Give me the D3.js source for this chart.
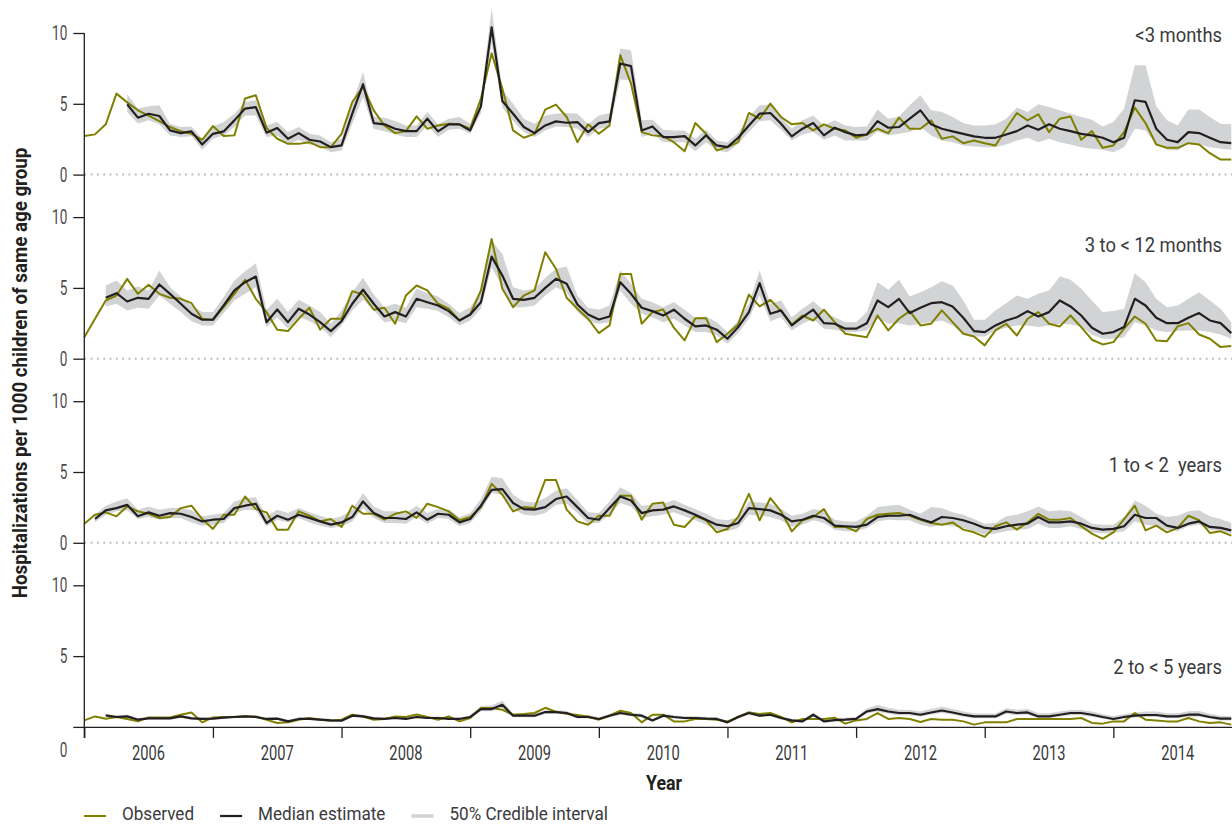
<!DOCTYPE html>
<html>
<head>
<meta charset="utf-8">
<title>Hospitalizations by age group</title>
<script src="https://cdn.jsdelivr.net/npm/d3@7"></script>
<style>
  body { margin: 0; background: #fff; }
  svg { display: block; font-family: Roboto, "Liberation Sans", sans-serif; }
  .pre { white-space: pre; }
</style>
</head>
<body>
<svg id="svg"></svg>
<script>
// x categories: monthly, Jan 2006 .. Dec 2014
var years = [2006, 2007, 2008, 2009, 2010, 2011, 2012, 2013, 2014];
var yTicks = [0, 5, 10];
var panelLabels = ["<3 months", "3 to < 12 months", "1 to < 2  years", "2 to < 5 years"];
var legendLabels = ["Observed", "Median estimate", "50% Credible interval"];

// <3 months
var obsA = [
  2.72, 2.84, 3.55, 5.72, 5.1, 4.54, 4.16, 3.78, 3.36, 3.07, 2.88, 2.46,
  3.43, 2.72, 2.77, 5.37, 5.6, 3.3, 2.53, 2.17, 2.17, 2.29, 1.94, 1.94,
  2.88, 5.13, 6.19, 4.54, 3.47, 2.93, 3.07, 4.11, 3.24, 3.47, 3.59, 3.55,
  3.24, 5.37, 8.56, 6.08, 3.12, 2.6, 2.88, 4.59, 4.94, 4.07, 2.29, 3.55,
  2.88, 3.47, 8.44, 6.43, 3.0, 2.77, 2.7, 2.29, 1.65, 3.64, 2.88, 1.7,
  1.94, 2.29, 4.35, 3.95, 5.01, 4.07, 3.55, 3.64, 3.12, 3.55, 3.24, 3.12,
  2.6, 2.83, 3.24, 2.93, 4.02, 3.24, 3.24, 3.83, 2.53, 2.7, 2.22, 2.41,
  2.22, 2.06, 3.24, 4.35, 3.83, 4.26, 3.0, 3.95, 4.11, 2.46, 3.07, 1.89,
  2.06, 3.0, 4.73, 3.64, 2.13, 1.89, 1.89, 2.22, 2.13, 1.51, 1.06, 1.06];
var medA = [
  null, null, null, null, 4.96, 4.02, 4.3, 4.14, 3.12, 2.93, 3.05, 2.13,
  2.88, 3.05, 3.83, 4.66, 4.77, 2.96, 3.29, 2.53, 2.93, 2.46, 2.34, 1.94,
  2.06, 4.3, 6.38, 3.64, 3.55, 3.24, 3.07, 3.07, 3.95, 3.05, 3.55, 3.55,
  3.12, 4.82, 10.4, 5.2, 4.3, 3.36, 2.93, 3.47, 3.76, 3.66, 3.71, 3.0,
  3.64, 3.76, 7.85, 7.66, 3.12, 3.4, 2.65, 2.65, 2.72, 2.06, 2.77, 2.06,
  1.94, 2.6, 3.47, 4.3, 4.35, 3.59, 2.7, 3.24, 3.64, 2.77, 3.31, 3.0,
  2.77, 2.83, 3.78, 3.31, 3.36, 3.95, 4.54, 3.55, 3.24, 3.05, 2.88, 2.7,
  2.6, 2.6, 2.83, 3.07, 3.47, 3.17, 3.55, 3.24, 3.07, 2.88, 2.77, 2.6,
  2.29, 2.6, 5.25, 5.13, 3.24, 2.46, 2.29, 3.0, 2.93, 2.6, 2.29, 2.22];
var loA = [
  null, null, null, null, 4.42, 3.6, 3.83, 3.55, 2.77, 2.65, 2.7, 1.75,
  2.53, 2.77, 3.36, 4.18, 4.18, 2.65, 2.77, 2.13, 2.46, 2.13, 1.99, 1.58,
  1.7, 3.59, 5.48, 3.24, 3.07, 2.83, 2.65, 2.65, 3.47, 2.65, 3.17, 3.24,
  2.88, 4.35, 9.27, 4.73, 3.78, 3.0, 2.65, 3.12, 3.4, 3.36, 3.24, 2.65,
  3.24, 3.36, 6.71, 6.66, 2.65, 2.88, 2.29, 2.29, 2.29, 1.65, 2.29, 1.7,
  1.58, 2.17, 3.0, 3.78, 3.83, 3.17, 2.41, 2.83, 3.0, 2.46, 2.77, 2.41,
  2.41, 2.41, 3.07, 2.77, 2.88, 3.0, 3.36, 2.77, 2.41, 2.29, 2.06, 1.99,
  1.94, 1.94, 2.13, 2.41, 2.6, 2.29, 2.53, 2.29, 2.13, 1.94, 1.82, 1.75,
  1.58, 1.94, 3.24, 3.12, 2.13, 1.75, 1.7, 2.17, 2.13, 1.94, 1.82, 1.75];
var hiA = [
  null, null, null, null, 5.67, 4.66, 4.82, 4.89, 3.59, 3.36, 3.4, 2.53,
  3.4, 3.71, 4.3, 5.13, 5.25, 3.47, 3.71, 3.0, 3.36, 2.88, 2.77, 2.29,
  2.53, 5.01, 7.26, 4.11, 4.02, 3.78, 3.47, 3.47, 4.42, 3.55, 3.95, 4.07,
  3.59, 5.48, 11.75, 5.96, 5.01, 3.95, 3.59, 4.18, 4.3, 4.35, 4.3, 3.55,
  4.18, 4.35, 8.91, 8.79, 3.83, 3.88, 3.17, 3.12, 3.12, 2.53, 3.17, 2.41,
  2.29, 2.93, 4.07, 4.89, 4.96, 4.07, 3.24, 3.83, 4.18, 3.47, 3.83, 3.47,
  3.36, 3.4, 4.59, 3.95, 4.11, 4.89, 5.6, 4.54, 4.42, 4.07, 3.64, 3.47,
  3.47, 3.55, 3.95, 4.73, 4.42, 4.96, 4.77, 4.54, 4.3, 4.07, 3.88, 3.4,
  3.71, 4.66, 7.73, 7.73, 4.82, 3.83, 3.47, 4.59, 4.59, 4.07, 3.59, 3.55];

// 3 to < 12 months
var obsB = [
  1.52, 2.82, 4.11, 4.46, 5.64, 4.58, 5.22, 4.58, 4.3, 4.23, 3.92, 2.82,
  2.75, 3.64, 4.58, 5.57, 4.23, 3.29, 2.05, 1.95, 2.82, 3.6, 2.05, 2.82,
  2.82, 4.77, 4.53, 3.46, 3.6, 2.47, 4.46, 5.17, 4.82, 3.88, 3.53, 2.7,
  3.12, 4.82, 8.46, 4.94, 3.64, 4.46, 4.82, 7.52, 6.35, 4.3, 3.53, 2.82,
  1.81, 2.35, 5.99, 5.99, 2.47, 3.29, 3.48, 2.19, 1.29, 2.86, 2.86, 1.17,
  1.76, 2.42, 4.53, 3.69, 4.16, 3.36, 2.42, 3.05, 2.7, 3.46, 2.58, 1.76,
  1.64, 1.52, 3.05, 2.0, 2.82, 3.36, 2.35, 2.47, 3.41, 2.58, 1.76, 1.57,
  0.94, 2.0, 2.47, 1.64, 2.82, 3.29, 2.47, 2.28, 3.05, 2.23, 1.34, 1.01,
  1.17, 2.12, 2.98, 2.47, 1.29, 1.24, 2.28, 2.51, 1.71, 1.41, 0.82, 0.9];
var medB = [
  null, null, 4.3, 4.63, 4.04, 4.3, 4.23, 5.24, 4.58, 3.88, 3.17, 2.75,
  2.75, 3.76, 4.82, 5.4, 5.8, 2.58, 3.48, 2.58, 3.53, 3.12, 2.58, 1.95,
  2.65, 3.88, 4.87, 3.88, 2.98, 3.29, 2.98, 4.23, 3.99, 3.76, 3.36, 2.7,
  3.12, 3.99, 7.21, 5.87, 4.23, 4.16, 4.3, 5.0, 5.64, 5.29, 3.83, 3.12,
  2.77, 2.98, 5.4, 4.58, 3.6, 3.36, 3.05, 3.46, 2.82, 2.28, 2.35, 2.05,
  1.41, 2.23, 3.29, 5.33, 3.17, 3.41, 2.35, 2.93, 3.46, 2.51, 2.47, 2.12,
  2.12, 2.51, 4.11, 3.64, 4.23, 3.22, 3.6, 3.92, 3.99, 3.69, 2.89, 1.95,
  1.88, 2.35, 2.7, 2.93, 3.36, 2.98, 3.29, 4.11, 3.69, 3.05, 2.19, 1.76,
  1.88, 2.23, 4.23, 3.76, 2.89, 2.51, 2.51, 2.89, 3.22, 2.7, 2.51, 1.81];
var loB = [
  null, null, 3.69, 3.88, 3.41, 3.6, 3.53, 4.46, 3.88, 3.29, 2.65, 2.35,
  2.35, 3.22, 4.11, 4.58, 5.05, 2.23, 2.93, 2.12, 2.98, 2.65, 2.23, 1.52,
  2.35, 3.41, 4.16, 3.41, 2.58, 2.7, 2.51, 3.64, 3.53, 3.36, 2.93, 2.35,
  2.7, 3.53, 6.46, 5.05, 3.64, 3.64, 3.76, 4.46, 5.05, 4.7, 3.29, 2.65,
  2.47, 2.58, 4.82, 3.88, 3.17, 2.93, 2.58, 2.82, 2.35, 1.88, 1.88, 1.64,
  1.06, 1.81, 2.82, 4.46, 2.65, 2.93, 2.0, 2.47, 2.82, 2.12, 2.05, 1.88,
  1.88, 2.0, 2.82, 2.47, 2.51, 2.35, 2.47, 2.58, 2.7, 2.35, 1.76, 1.57,
  1.57, 2.0, 2.19, 2.35, 2.35, 2.23, 2.35, 2.47, 2.42, 2.28, 1.71, 1.41,
  1.41, 1.52, 2.58, 2.35, 2.0, 1.88, 1.95, 2.0, 2.0, 1.88, 1.71, 1.41];
var hiB = [
  null, null, 5.17, 5.52, 4.82, 5.1, 4.82, 6.23, 5.05, 4.39, 3.76, 3.29,
  3.29, 4.35, 5.52, 6.18, 6.74, 3.46, 4.23, 3.29, 4.16, 3.76, 3.29, 2.47,
  3.41, 4.7, 5.71, 4.53, 3.64, 3.88, 3.6, 4.94, 4.63, 4.39, 3.88, 3.22,
  3.64, 4.82, 8.34, 7.4, 5.05, 4.82, 4.94, 5.71, 6.35, 6.51, 4.46, 3.6,
  3.46, 3.76, 6.23, 5.29, 4.23, 3.99, 3.64, 3.99, 3.46, 2.89, 2.98, 2.58,
  1.88, 2.7, 3.88, 6.23, 3.88, 4.11, 2.93, 3.53, 4.06, 3.41, 2.93, 2.58,
  2.58, 3.29, 5.4, 4.87, 5.57, 4.39, 4.7, 5.05, 5.47, 5.17, 4.11, 2.75,
  2.75, 3.41, 3.92, 4.46, 4.23, 4.58, 4.82, 5.8, 5.57, 4.94, 4.11, 3.29,
  3.36, 3.53, 6.04, 5.4, 4.23, 3.64, 3.76, 4.23, 4.7, 4.11, 3.53, 2.58];

// 1 to < 2 years
var obsC = [
  1.35, 1.98, 2.15, 1.87, 2.57, 2.22, 2.05, 1.75, 1.82, 2.45, 2.62, 1.68,
  0.98, 1.98, 1.98, 3.27, 2.38, 2.15, 0.93, 0.93, 2.22, 1.91, 1.51, 1.68,
  1.12, 2.62, 2.05, 2.05, 1.63, 2.05, 2.22, 1.75, 2.76, 2.52, 2.22, 1.59,
  1.82, 2.52, 4.16, 3.39, 2.22, 2.52, 2.45, 4.44, 4.44, 2.34, 1.51, 1.28,
  1.91, 1.91, 3.32, 3.32, 1.63, 2.76, 2.85, 1.28, 1.12, 1.91, 1.59, 0.74,
  0.98, 1.82, 3.46, 1.59, 3.16, 2.22, 0.81, 1.59, 1.82, 2.38, 1.12, 1.12,
  0.81, 1.68, 1.98, 2.05, 2.1, 1.91, 1.63, 1.4, 1.28, 1.44, 0.93, 0.74,
  0.42, 1.17, 1.44, 0.93, 1.44, 2.05, 1.63, 1.63, 1.75, 1.17, 0.65, 0.28,
  0.74, 1.68, 2.62, 0.88, 1.21, 0.74, 1.05, 1.91, 1.59, 0.7, 0.81, 0.51];
var medC = [
  null, 1.68, 2.29, 2.45, 2.68, 1.87, 2.15, 1.91, 2.1, 2.05, 1.82, 1.51,
  1.63, 1.68, 2.45, 2.62, 2.76, 1.4, 1.91, 1.63, 1.98, 1.75, 1.51, 1.28,
  1.44, 1.82, 2.92, 2.1, 1.75, 1.75, 1.68, 2.15, 1.63, 2.05, 1.98, 1.44,
  1.68, 2.62, 3.74, 3.79, 2.81, 2.38, 2.34, 2.52, 3.09, 3.27, 2.52, 1.75,
  1.63, 2.45, 3.27, 2.99, 2.1, 2.29, 2.34, 2.57, 2.29, 1.98, 1.63, 1.28,
  1.17, 1.4, 2.45, 2.38, 2.29, 1.98, 1.51, 1.63, 1.91, 1.75, 1.21, 1.17,
  1.12, 1.28, 1.82, 1.91, 1.91, 1.98, 1.68, 1.44, 1.82, 1.75, 1.59, 1.35,
  1.05, 0.98, 1.17, 1.28, 1.35, 1.82, 1.44, 1.44, 1.51, 1.35, 1.05, 0.93,
  0.98, 1.17, 1.98, 1.75, 1.75, 1.21, 1.05, 1.35, 1.51, 1.12, 1.05, 0.88];
var loC = [
  null, 1.45, 1.98, 2.22, 2.29, 1.68, 1.82, 1.63, 1.75, 1.75, 1.44, 1.21,
  1.28, 1.4, 2.1, 2.33, 2.29, 1.17, 1.63, 1.44, 1.75, 1.44, 1.21, 1.05,
  1.17, 1.51, 2.45, 1.75, 1.4, 1.4, 1.35, 1.82, 1.35, 1.75, 1.68, 1.17,
  1.4, 2.22, 3.51, 3.39, 2.38, 1.98, 1.91, 2.1, 2.69, 2.76, 2.1, 1.35,
  1.4, 1.98, 2.81, 2.57, 1.75, 1.87, 1.98, 2.15, 1.87, 1.59, 1.28, 0.93,
  0.81, 1.05, 1.98, 1.91, 1.82, 1.59, 1.12, 1.28, 1.59, 1.4, 0.93, 0.81,
  0.81, 1.05, 1.51, 1.63, 1.59, 1.59, 1.28, 1.12, 1.28, 1.17, 1.05, 0.81,
  0.58, 0.65, 0.81, 0.93, 0.98, 1.35, 1.05, 1.05, 1.17, 0.98, 0.74, 0.65,
  0.7, 0.81, 1.51, 1.28, 1.17, 0.93, 0.81, 1.17, 1.28, 0.93, 0.81, 0.65];
var hiC = [
  null, 1.98, 2.62, 2.92, 3.15, 2.33, 2.57, 2.33, 2.45, 2.45, 2.29, 1.87,
  1.98, 2.1, 2.92, 3.15, 3.22, 1.87, 2.33, 2.1, 2.45, 2.15, 1.91, 1.68,
  1.87, 2.33, 3.5, 2.57, 2.22, 2.22, 2.1, 2.62, 2.1, 2.38, 2.34, 1.82,
  2.1, 3.09, 4.67, 4.56, 3.39, 2.92, 2.85, 3.16, 3.69, 3.86, 3.02, 2.15,
  2.1, 2.92, 3.93, 3.51, 2.62, 2.69, 2.76, 3.02, 2.69, 2.38, 2.05, 1.68,
  1.59, 1.82, 2.92, 2.85, 2.76, 2.38, 1.91, 2.05, 2.38, 2.22, 1.63, 1.51,
  1.51, 1.91, 2.52, 2.62, 2.69, 2.34, 2.05, 2.52, 2.45, 2.15, 1.98, 1.68,
  1.35, 1.4, 1.87, 1.98, 2.22, 2.57, 2.22, 2.29, 2.22, 1.82, 1.35, 1.28,
  1.28, 1.82, 2.99, 2.62, 2.05, 1.82, 1.91, 2.22, 2.29, 1.87, 1.68, 1.4];

// 2 to < 5 years
var obsD = [
  0.46, 0.74, 0.58, 0.7, 0.56, 0.39, 0.67, 0.67, 0.67, 0.86, 1.02, 0.32,
  0.67, 0.7, 0.7, 0.74, 0.74, 0.51, 0.28, 0.32, 0.51, 0.63, 0.51, 0.44,
  0.51, 0.86, 0.74, 0.51, 0.56, 0.74, 0.7, 0.88, 0.7, 0.51, 0.74, 0.39,
  0.63, 1.33, 1.33, 1.21, 0.86, 0.91, 0.98, 1.35, 1.07, 0.93, 0.84, 0.74,
  0.51, 0.79, 1.14, 0.98, 0.32, 0.86, 0.86, 0.39, 0.39, 0.56, 0.56, 0.51,
  0.39, 0.7, 1.02, 0.91, 0.98, 0.7, 0.32, 0.56, 0.56, 0.56, 0.65, 0.23,
  0.46, 0.56, 0.98, 0.56, 0.63, 0.56, 0.35, 0.56, 0.51, 0.51, 0.39, 0.16,
  0.32, 0.32, 0.32, 0.56, 0.56, 0.56, 0.56, 0.56, 0.56, 0.63, 0.28, 0.23,
  0.39, 0.39, 0.98, 0.51, 0.46, 0.39, 0.39, 0.63, 0.39, 0.28, 0.32, 0.16];
var medD = [
  null, null, 0.81, 0.7, 0.74, 0.51, 0.6, 0.6, 0.6, 0.74, 0.6, 0.56,
  0.58, 0.65, 0.7, 0.74, 0.7, 0.56, 0.58, 0.39, 0.56, 0.56, 0.51, 0.46,
  0.44, 0.79, 0.74, 0.6, 0.56, 0.63, 0.56, 0.7, 0.63, 0.63, 0.56, 0.56,
  0.7, 1.26, 1.26, 1.56, 0.79, 0.79, 0.79, 1.05, 1.05, 0.98, 0.7, 0.7,
  0.56, 0.79, 0.98, 0.86, 0.79, 0.46, 0.79, 0.7, 0.63, 0.63, 0.58, 0.56,
  0.32, 0.7, 0.98, 0.79, 0.86, 0.63, 0.46, 0.39, 0.86, 0.39, 0.48, 0.51,
  0.56, 1.09, 1.26, 1.09, 0.98, 0.98, 0.86, 1.02, 1.16, 1.02, 0.86, 0.74,
  0.74, 0.74, 1.09, 0.98, 1.02, 0.74, 0.74, 0.86, 0.98, 0.98, 0.86, 0.7,
  0.56, 0.7, 0.79, 0.84, 0.84, 0.74, 0.74, 0.86, 0.86, 0.7, 0.58, 0.58];
var loD = [
  null, null, 0.72, 0.62, 0.66, 0.43, 0.52, 0.52, 0.52, 0.65, 0.52, 0.48,
  0.5, 0.57, 0.62, 0.65, 0.62, 0.48, 0.5, 0.31, 0.48, 0.48, 0.43, 0.38,
  0.36, 0.7, 0.65, 0.52, 0.48, 0.55, 0.48, 0.62, 0.55, 0.55, 0.48, 0.48,
  0.6, 1.1, 1.1, 1.36, 0.68, 0.68, 0.68, 0.93, 0.93, 0.86, 0.6, 0.6,
  0.46, 0.68, 0.86, 0.75, 0.68, 0.37, 0.68, 0.6, 0.53, 0.53, 0.48, 0.46,
  0.24, 0.6, 0.86, 0.68, 0.75, 0.53, 0.37, 0.3, 0.75, 0.3, 0.39, 0.42,
  0.46, 0.94, 1.08, 0.93, 0.83, 0.83, 0.72, 0.87, 0.99, 0.87, 0.72, 0.61,
  0.61, 0.61, 0.93, 0.83, 0.87, 0.61, 0.61, 0.72, 0.83, 0.83, 0.72, 0.57,
  0.45, 0.57, 0.65, 0.7, 0.7, 0.61, 0.61, 0.72, 0.72, 0.57, 0.46, 0.46];
var hiD = [
  null, null, 0.9, 0.82, 0.85, 0.62, 0.7, 0.7, 0.7, 0.85, 0.72, 0.66,
  0.68, 0.75, 0.8, 0.85, 0.8, 0.66, 0.68, 0.5, 0.66, 0.66, 0.62, 0.56,
  0.55, 0.92, 0.86, 0.7, 0.66, 0.74, 0.66, 0.8, 0.74, 0.74, 0.66, 0.66,
  0.82, 1.48, 1.52, 1.85, 0.92, 0.9, 0.9, 1.18, 1.18, 1.12, 0.82, 0.82,
  0.68, 0.92, 1.15, 1.0, 0.92, 0.58, 0.92, 0.82, 0.75, 0.75, 0.7, 0.68,
  0.44, 0.82, 1.12, 0.92, 1.0, 0.75, 0.58, 0.52, 1.0, 0.52, 0.62, 0.64,
  0.7, 1.3, 1.55, 1.35, 1.22, 1.2, 1.08, 1.26, 1.42, 1.26, 1.08, 0.95,
  0.95, 0.95, 1.32, 1.22, 1.26, 0.96, 0.96, 1.08, 1.2, 1.2, 1.08, 0.9,
  0.75, 0.9, 1.02, 1.08, 1.08, 0.96, 0.96, 1.1, 1.12, 0.92, 0.78, 0.76];

var panels = [
  { label: panelLabels[0], obs: obsA, med: medA, lo: loA, hi: hiA },
  { label: panelLabels[1], obs: obsB, med: medB, lo: loB, hi: hiB },
  { label: panelLabels[2], obs: obsC, med: medC, lo: loC, hi: hiC },
  { label: panelLabels[3], obs: obsD, med: medD, lo: loD, hi: hiD }
];

// ---- layout ----
var W = 1232, H = 825;
var panelTop = 33, panelStep = 184.1, panelH = 141.6;
var labelLevel = [9.36, 7.56, 5.03, 3.71];   // baseline of the panel titles, in data units
var cObs = "#808000", cMed = "#231f20", cBand = "#d1d3d4", cText = "#3a3a3c", cTick = "#4d4d4f";

var svg = d3.select("#svg").attr("width", W).attr("height", H);

var x = d3.scaleLinear().domain([0, years.length * 12]).range([84.3, 1242]);
var months = d3.range(years.length * 12);

// horizontally condense text (the original uses a condensed face)
function squeeze(sel, k) {
  sel.each(function () {
    var t = d3.select(this);
    var tx = +t.attr("x") || 0, ty = +t.attr("y") || 0;
    t.attr("transform", "translate(" + tx + "," + ty + ") scale(" + k + ",1)")
      .attr("x", 0).attr("y", 0);
  });
}

var yScales = [];

panels.forEach(function (p, k) {
  var top = panelTop + k * panelStep;
  var y = d3.scaleLinear().domain([0, 10]).range([top + panelH, top]);
  yScales.push(y);
  var g = svg.append("g");

  var band = d3.area()
    .defined(function (i) { return p.lo[i] != null; })
    .x(function (i) { return x(i); })
    .y0(function (i) { return y(p.lo[i]); })
    .y1(function (i) { return y(p.hi[i]); });
  g.append("path").attr("d", band(months)).attr("fill", cBand);

  if (k < 3) {
    g.append("line")
      .attr("x1", x(0)).attr("x2", W).attr("y1", y(0)).attr("y2", y(0))
      .attr("stroke", "#bcbec0").attr("stroke-width", 2).attr("stroke-dasharray", "2,4.3");
  }

  var lineObs = d3.line().x(function (i) { return x(i); }).y(function (i) { return y(p.obs[i]); });
  g.append("path").attr("d", lineObs(months))
    .attr("fill", "none").attr("stroke", cObs).attr("stroke-width", 2).attr("stroke-linejoin", "round");

  var lineMed = d3.line()
    .defined(function (i) { return p.med[i] != null; })
    .x(function (i) { return x(i); }).y(function (i) { return y(p.med[i]); });
  g.append("path").attr("d", lineMed(months))
    .attr("fill", "none").attr("stroke", cMed).attr("stroke-width", 2.2).attr("stroke-linejoin", "round");

  var ax = d3.axisLeft(y).tickValues(yTicks).tickSize(11).tickPadding(6)
    .tickFormat(function (d) { return (k === 3 && d === 0) ? "" : d; });
  var gA = g.append("g").attr("transform", "translate(" + x(0) + ",0)").call(ax)
    .attr("font-family", null).attr("font-size", 20);
  gA.select(".domain").remove();
  gA.selectAll(".tick line").attr("stroke", cMed).attr("stroke-width", 1.3);
  gA.selectAll(".tick text").attr("fill", cTick).call(squeeze, 0.68);

  g.append("text").attr("class", "pre")
    .attr("x", 1222).attr("y", y(labelLevel[k]))
    .attr("text-anchor", "end").attr("font-size", 20)
    .attr("fill", cText).text(p.label).call(squeeze, 0.92);
});

var yBottom = yScales[3];

// vertical axis line spanning all panels
svg.append("line")
  .attr("x1", x(0)).attr("x2", x(0))
  .attr("y1", yScales[0](10)).attr("y2", yBottom(0) + 11)
  .attr("stroke", cMed).attr("stroke-width", 1.3);

// the lonely "0" under the last panel
svg.append("text").attr("x", x(0) - 17).attr("y", yBottom(0) + 30)
  .attr("text-anchor", "end").attr("font-size", 20)
  .attr("fill", cTick).text("0").call(squeeze, 0.68);

// x axis
var xAxis = d3.axisBottom(x).tickValues(years.map(function (d, i) { return i * 12; }))
  .tickSize(11).tickSizeOuter(0).tickFormat("");
var gX = svg.append("g").attr("transform", "translate(0," + yBottom(0) + ")").call(xAxis);
gX.select(".domain").attr("stroke", cMed).attr("stroke-width", 1.3);
gX.selectAll(".tick line").attr("stroke", cMed).attr("stroke-width", 1.3);

svg.selectAll(".year").data(years).join("text")
  .attr("class", "year")
  .attr("x", function (d, i) { return x(i * 12 + 6); })
  .attr("y", yBottom(0) + 33)
  .attr("text-anchor", "middle").attr("font-size", 21)
  .attr("fill", cText).text(function (d) { return d; })
  .call(squeeze, 0.7);

svg.append("text").attr("x", 664).attr("y", 790)
  .attr("text-anchor", "middle").attr("font-size", 21).attr("font-weight", 700)
  .attr("fill", cMed).text("Year").call(squeeze, 0.85);

var yTitle = svg.append("text")
  .attr("transform", "translate(27,373) rotate(-90)")
  .attr("text-anchor", "middle").attr("font-size", 20).attr("font-weight", 700)
  .attr("fill", cMed).text("Hospitalizations per 1000 children of same age group");
var tl = yTitle.node().getComputedTextLength();
yTitle.attr("transform", "translate(27,373) rotate(-90) scale(" + (451 / tl) + ",1)");

// legend
var legendColors = [cObs, cMed, cBand];
var legendWidths = [2, 2.2, 3.5];
var lx = 84;
legendLabels.forEach(function (lab, i) {
  svg.append("line").attr("x1", lx).attr("x2", lx + 22).attr("y1", 816).attr("y2", 816)
    .attr("stroke", legendColors[i]).attr("stroke-width", legendWidths[i]);
  var t = svg.append("text").attr("x", lx + 38).attr("y", 820)
    .attr("font-size", 19).attr("fill", cText).text(lab);
  var w = t.node().getComputedTextLength() * 0.9;
  t.call(squeeze, 0.9);
  lx = lx + 38 + w + 26;
});
</script>
</body>
</html>
